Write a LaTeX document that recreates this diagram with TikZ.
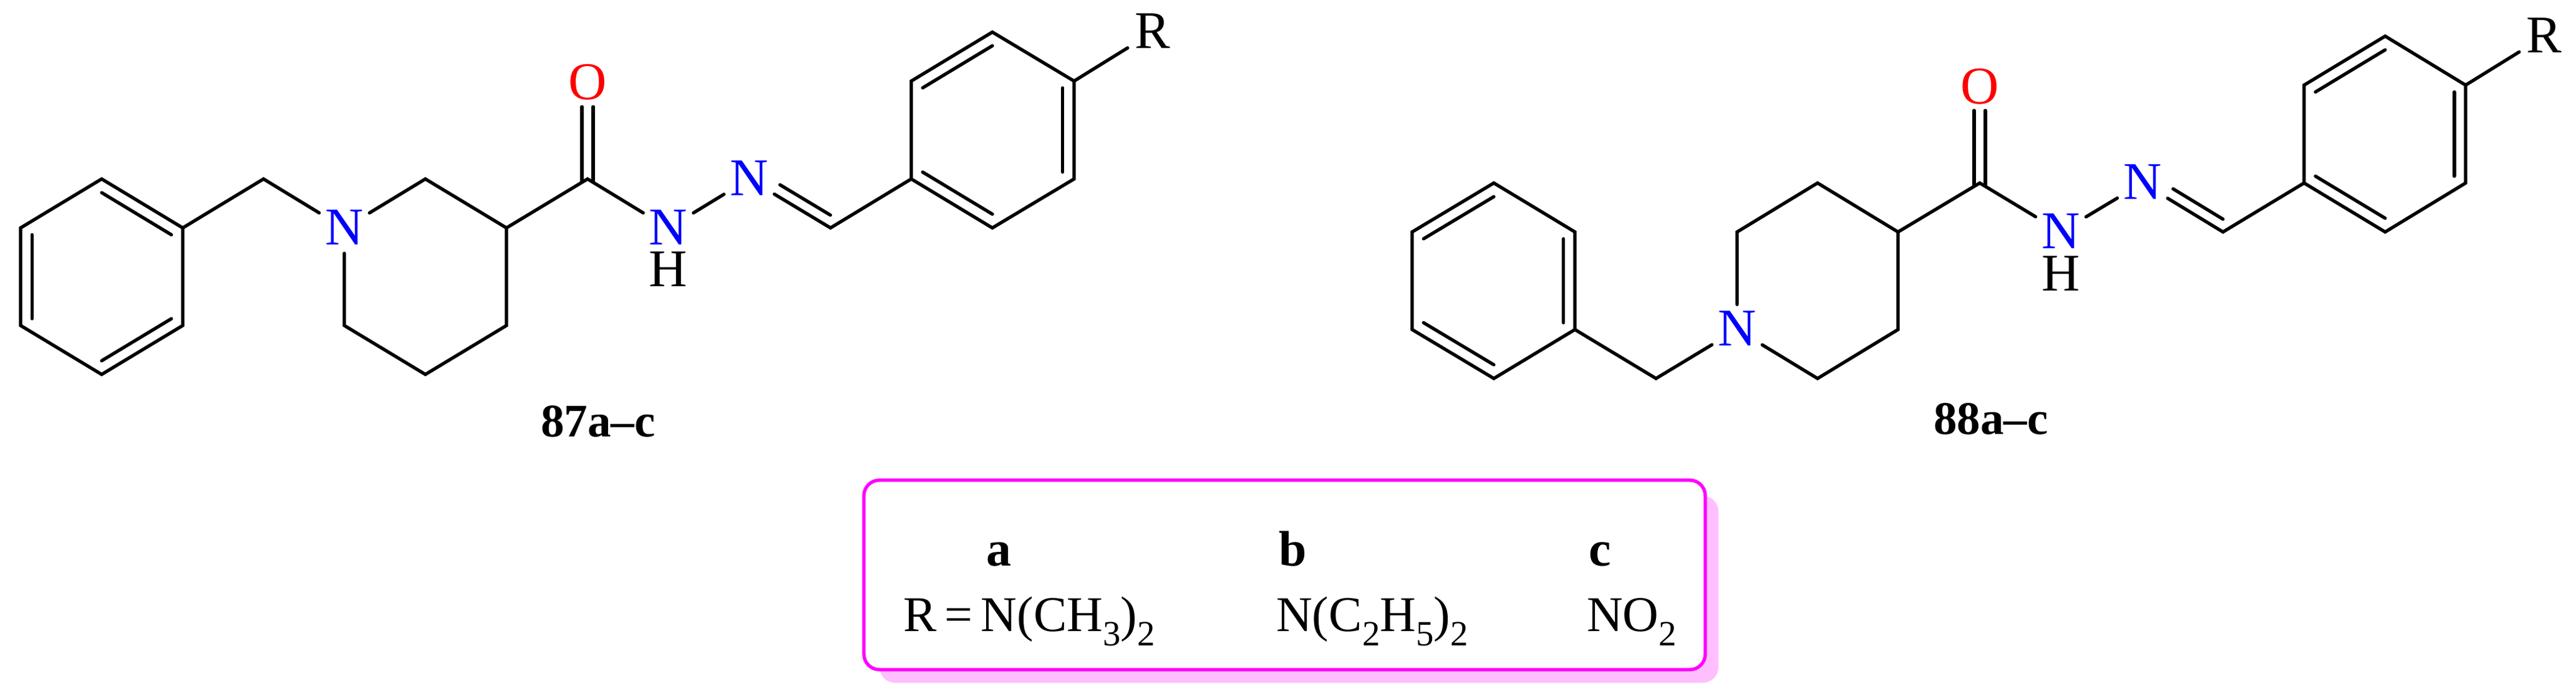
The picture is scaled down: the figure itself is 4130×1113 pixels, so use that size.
\documentclass[tikz,border=0pt]{standalone}
\usepackage{fontspec}
\setmainfont{Liberation Serif}
\usetikzlibrary{calc}
\newcommand{\sbs}[1]{\raisebox{-23pt}{\fontsize{57}{60}\selectfont #1}}
\newcommand{\inner}[3]{\draw[bond] ($(#1)!0.14!(#3)$) -- ($(#2)!0.14!(#3)$);}
\definecolor{shadepink}{HTML}{FFBFFF}
\definecolor{panelpink}{HTML}{FF00FF}
\tikzset{
  x=1pt,y=-1pt,
  bond/.style={line width=5.3pt,line join=miter,line cap=round,black},
  ringbond/.style={line width=5.3pt,line join=miter,black},
  atom/.style={shape=circle,inner sep=0pt,minimum size=94pt,text height=52pt,text depth=0pt,font=\fontsize{85}{96}\selectfont},
  nit/.style={atom,text=blue},
  oxy/.style={shape=rectangle,inner sep=0pt,minimum width=62pt,minimum height=80pt,text height=58pt,text depth=0pt,font=\fontsize{85}{96}\selectfont,text=red},
  hyd/.style={shape=rectangle,inner sep=0pt,text height=56pt,text depth=0pt,font=\fontsize{85}{96}\selectfont,text=black},
  lab/.style={inner sep=0pt,anchor=base,font=\fontsize{75}{80}\selectfont\bfseries},
  col/.style={inner sep=0pt,anchor=base,font=\fontsize{80}{84}\selectfont\bfseries},
  val/.style={inner sep=0pt,anchor=base west,font=\fontsize{80}{84}\selectfont},
  panel/.style={draw=panelpink,line width=5.4pt,fill=white,rounded corners=25pt},
  panelshadow/.style={fill=shadepink,rounded corners=25pt},
}
\begin{document}
\begin{tikzpicture}
\useasboundingbox (0,0) rectangle (4130,1113);
% ---------- molecule 87
\coordinate (a1) at (163,287);\coordinate (a2) at (293,365.5);\coordinate (a3) at (293,522);
\coordinate (a4) at (163,600.5);\coordinate (a5) at (33,522);\coordinate (a6) at (33,365.5);
\coordinate (acen) at (163,444);
\coordinate (ach2) at (422.5,287);
\node[nit] (an) at (552,366) {N};
\coordinate (ar1) at (682,287);\coordinate (ar2) at (812,365.5);\coordinate (ar3) at (812,522);
\coordinate (ar4) at (682,600.5);\coordinate (ar5) at (552,522);
\coordinate (aco) at (942,287);
\node[oxy] (ao) at (942,131) {O};
\node[nit] (anh) at (1071.5,366) {N};
\node[hyd] (ah) at (1071.5,431.5) {H};
\node[nit] (ann) at (1201,287) {N};
\coordinate (ach) at (1331.5,365.5);
\coordinate (ap1) at (1461,287);\coordinate (ap2) at (1461,130);\coordinate (ap3) at (1591,51.5);
\coordinate (ap4) at (1722,130);\coordinate (ap5) at (1722,287);\coordinate (ap6) at (1591,365.5);
\coordinate (apcen) at (1591,208);
\node[atom] (ar) at (1848,52) {R};
\draw[ringbond] (a1) -- (a2) -- (a3) -- (a4) -- (a5) -- (a6) -- cycle;
\inner{a1}{a2}{acen}\inner{a3}{a4}{acen}\inner{a5}{a6}{acen}
\draw[bond] (a2) -- (ach2) -- (an);
\draw[bond] (an) -- (ar1) -- (ar2) -- (ar3) -- (ar4) -- (ar5) -- ([yshift=7pt]an.south);
\draw[bond] (ar2) -- (aco) -- (anh);
\draw[bond] ([shift={(-9,3)}]aco) -- ([xshift=-9pt]ao.south);
\draw[bond] ([shift={(9,3)}]aco) -- ([xshift=9pt]ao.south);
\draw[bond] (anh) -- (ann);
\draw[bond] (ann) -- (ach) -- (ap1);
\draw[bond] ($(ann)!.31!(ach)+(9,-15)$) -- ($(ann)!.93!(ach)+(9,-15)$);
\draw[ringbond] (ap1) -- (ap2) -- (ap3) -- (ap4) -- (ap5) -- (ap6) -- cycle;
\inner{ap2}{ap3}{apcen}\inner{ap4}{ap5}{apcen}\inner{ap6}{ap1}{apcen}
\draw[bond] (ap4) -- (ar);
\node[lab] (alabel) at (959,700) {87a–c};
% ---------- molecule 88
\coordinate (b1) at (2395,293.5);\coordinate (b2) at (2525,372);\coordinate (b3) at (2525,528.5);
\coordinate (b4) at (2395,607);\coordinate (b5) at (2264,528.5);\coordinate (b6) at (2264,372);
\coordinate (bcen) at (2395,450);
\coordinate (bch2) at (2655,607);
\node[nit] (bn) at (2785,528.5) {N};
\coordinate (br1) at (2785,372);\coordinate (br2) at (2914,293.5);\coordinate (br3) at (3043,372);
\coordinate (br4) at (3043,528.5);\coordinate (br5) at (2914,607);
\coordinate (bco) at (3174,293.5);
\node[oxy] (bo) at (3174,137) {O};
\node[nit] (bnh) at (3304,372) {N};
\node[hyd] (bh) at (3304,438) {H};
\node[nit] (bnn) at (3435,293.5) {N};
\coordinate (bch) at (3564,372);
\coordinate (bp1) at (3694,293.5);\coordinate (bp2) at (3694,136.5);\coordinate (bp3) at (3824,58);
\coordinate (bp4) at (3953,136.5);\coordinate (bp5) at (3953,293.5);\coordinate (bp6) at (3824,372);
\coordinate (bpcen) at (3824,215);
\node[atom] (br) at (4079,58.5) {R};
\draw[ringbond] (b1) -- (b2) -- (b3) -- (b4) -- (b5) -- (b6) -- cycle;
\inner{b6}{b1}{bcen}\inner{b2}{b3}{bcen}\inner{b4}{b5}{bcen}
\draw[bond] (b3) -- (bch2) -- (bn);
\draw[bond] (bn) -- (br5) -- (br4) -- (br3) -- (br2) -- (br1) -- ([yshift=-7pt]bn.north);
\draw[bond] (br3) -- (bco) -- (bnh);
\draw[bond] ([shift={(-9,3)}]bco) -- ([xshift=-9pt]bo.south);
\draw[bond] ([shift={(9,3)}]bco) -- ([xshift=9pt]bo.south);
\draw[bond] (bnh) -- (bnn);
\draw[bond] (bnn) -- (bch) -- (bp1);
\draw[bond] ($(bnn)!.31!(bch)+(9,-15)$) -- ($(bnn)!.93!(bch)+(9,-15)$);
\draw[ringbond] (bp1) -- (bp2) -- (bp3) -- (bp4) -- (bp5) -- (bp6) -- cycle;
\inner{bp2}{bp3}{bpcen}\inner{bp4}{bp5}{bpcen}\inner{bp6}{bp1}{bpcen}
\draw[bond] (bp4) -- (br);
\node[lab] (blabel) at (3192,696) {88a–c};
% ---------- panel
\fill[panelshadow] (1410,795) rectangle (2755,1095);
\draw[panel] (1385,770) rectangle (2734,1074);
\node[col] (ca) at (1601,907) {a};
\node[col] (cb) at (2073,907) {b};
\node[col] (cc) at (2565,907) {c};
\node[val] (va) at (1448,1012.5) {R\hspace{13pt}=\hspace{13pt}N(CH\sbs{3})\sbs{2}};
\node[val] (vb) at (2046,1012.5) {N(C\sbs{2}H\sbs{5})\sbs{2}};
\node[val] (vc) at (2544,1012.5) {NO\sbs{2}};
\end{tikzpicture}
\end{document}
